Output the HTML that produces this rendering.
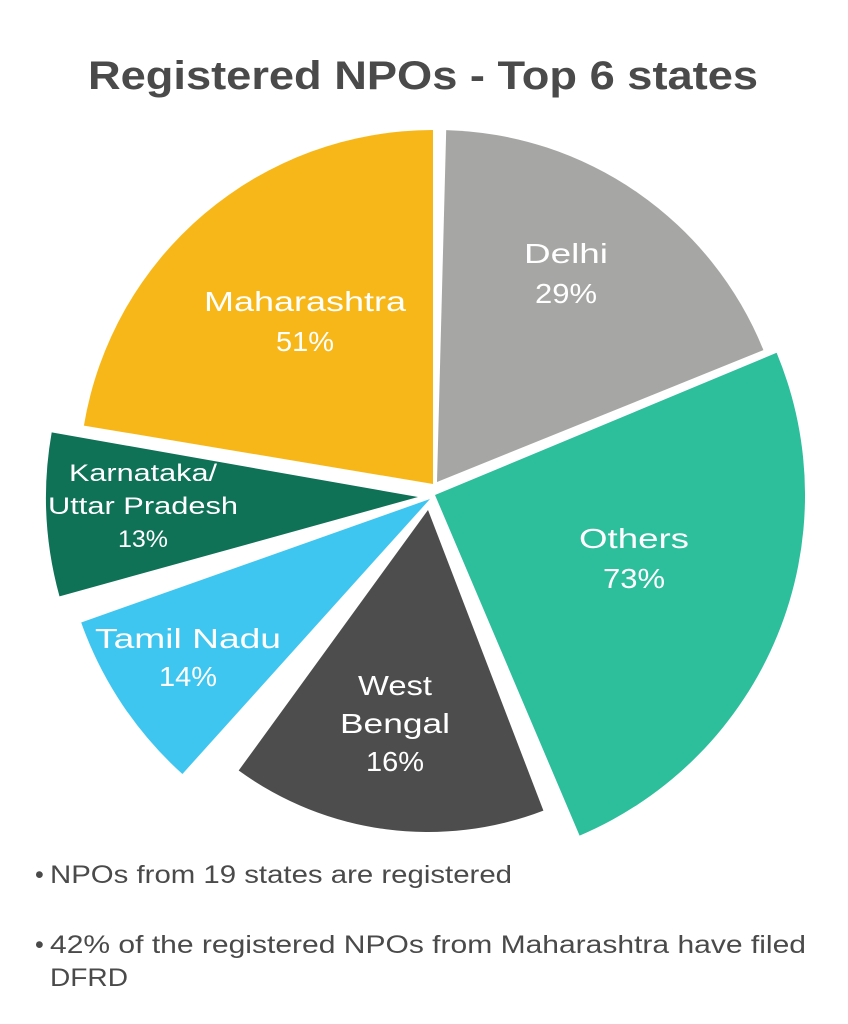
<!DOCTYPE html>
<html><head><meta charset="utf-8"><style>
html,body{margin:0;padding:0;background:#fff}
svg{display:block}
text{font-family:"Liberation Sans",sans-serif}
</style></head><body>
<svg id="s" width="848" height="1024" viewBox="0 0 848 1024" xmlns="http://www.w3.org/2000/svg">
<g id="pie"></g>
<text x="423" y="89" text-anchor="middle" font-size="40" font-weight="bold" fill="#4a4a4a" textLength="670" lengthAdjust="spacingAndGlyphs">Registered NPOs - Top 6 states</text>
<g fill="#fff" font-size="28" text-anchor="middle">
<text x="305" y="311" textLength="202" lengthAdjust="spacingAndGlyphs">Maharashtra</text>
<text x="305" y="351" textLength="58" lengthAdjust="spacingAndGlyphs">51%</text>
<text x="566" y="263" textLength="84" lengthAdjust="spacingAndGlyphs">Delhi</text>
<text x="566" y="303" textLength="62" lengthAdjust="spacingAndGlyphs">29%</text>
<text x="634" y="548" textLength="110" lengthAdjust="spacingAndGlyphs">Others</text>
<text x="634" y="588" textLength="62" lengthAdjust="spacingAndGlyphs">73%</text>
<text x="395" y="695" textLength="74" lengthAdjust="spacingAndGlyphs">West</text>
<text x="395" y="733" textLength="110" lengthAdjust="spacingAndGlyphs">Bengal</text>
<text x="395" y="771" textLength="58" lengthAdjust="spacingAndGlyphs">16%</text>
<text x="188" y="648" textLength="186" lengthAdjust="spacingAndGlyphs">Tamil Nadu</text>
<text x="188" y="686" textLength="58" lengthAdjust="spacingAndGlyphs">14%</text>
</g>
<g fill="#fff" font-size="24" text-anchor="middle">
<text x="143" y="481" textLength="148" lengthAdjust="spacingAndGlyphs">Karnataka/</text>
<text x="143" y="514" textLength="190" lengthAdjust="spacingAndGlyphs">Uttar Pradesh</text>
<text x="143" y="547" textLength="50" lengthAdjust="spacingAndGlyphs">13%</text>
</g>
<g fill="#4a4a4a" font-size="25">
<text x="35" y="883">•</text>
<text x="50" y="883" textLength="462" lengthAdjust="spacingAndGlyphs">NPOs from 19 states are registered</text>
<text x="35" y="953">•</text>
<text x="50" y="953" textLength="756" lengthAdjust="spacingAndGlyphs">42% of the registered NPOs from Maharashtra have filed</text>
<text x="50" y="986" textLength="78" lengthAdjust="spacingAndGlyphs">DFRD</text>
</g>
</svg>
<script>
var sl=[
[279.5,360,433,484,354,"#F7B718"],
[1.5,68,437,482,352,"#A6A6A4"],
[67.4,157,435,495,370,"#2DBE9C"],
[159,216,428,510,322,"#4D4D4D"],
[222,250.5,430,499,370,"#3EC6F0"],
[254.5,280,418,497,372,"#0F7257"]];
var g=document.getElementById("pie"),h="";
sl.forEach(function(s){
 function p(a){var r=a*Math.PI/180;return [(s[2]+s[4]*Math.sin(r)).toFixed(1),(s[3]-s[4]*Math.cos(r)).toFixed(1)];}
 var a=p(s[0]),b=p(s[1]),l=(s[1]-s[0])>180?1:0;
 h+='<path fill="'+s[5]+'" d="M'+s[2]+','+s[3]+' L'+a[0]+','+a[1]+' A'+s[4]+','+s[4]+' 0 '+l+' 1 '+b[0]+','+b[1]+' Z"/>';
});
g.innerHTML=h;
</script>
</body></html>
